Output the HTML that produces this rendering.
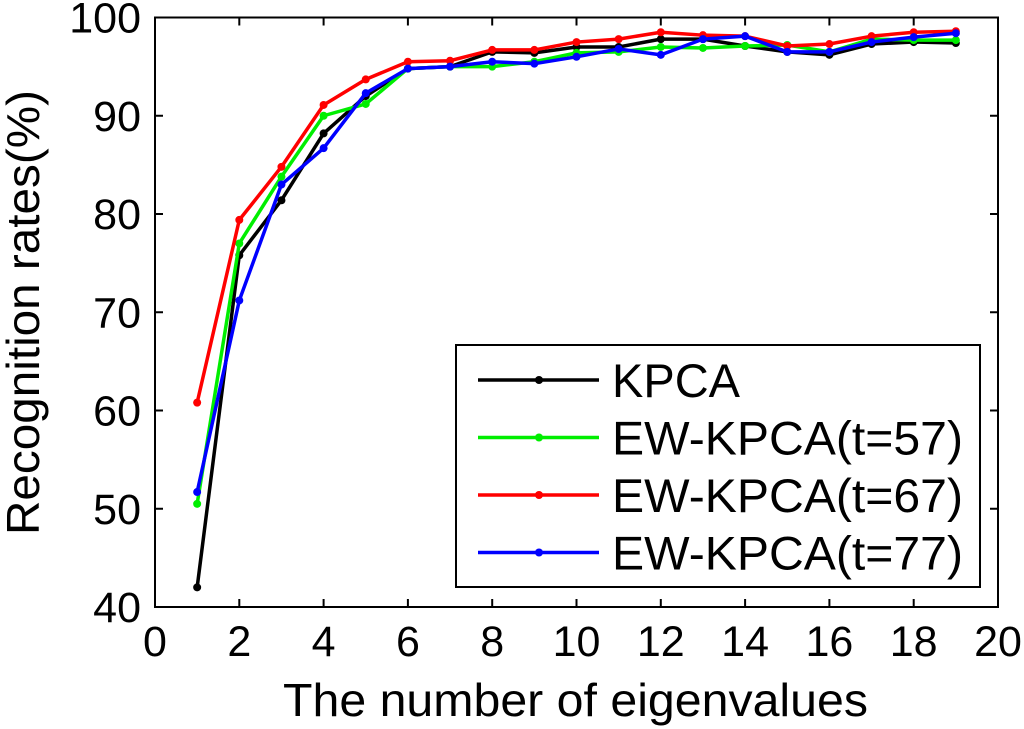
<!DOCTYPE html>
<html><head><meta charset="utf-8"><style>
body{margin:0;background:#fff;}
svg{display:block;font-family:"Liberation Sans",Arial,sans-serif;}
</style></head><body>
<svg id="chart" width="1024" height="729"></svg>
<script>
const xValues=[1,2,3,4,5,6,7,8,9,10,11,12,13,14,15,16,17,18,19];
const kpca=[42,75.8,81.4,88.2,92.0,94.8,95.0,96.5,96.4,97.0,97.0,97.8,97.8,97.1,96.5,96.2,97.3,97.5,97.4];
const ew57=[50.5,77.0,83.8,90.0,91.2,94.8,95.0,95.0,95.5,96.4,96.5,97.0,96.9,97.1,97.2,96.5,97.8,97.7,97.7];
const ew67=[60.8,79.4,84.8,91.1,93.7,95.5,95.6,96.7,96.7,97.5,97.8,98.5,98.2,98.1,97.1,97.3,98.1,98.5,98.6];
const ew77=[51.7,71.2,83.0,86.7,92.3,94.8,95.0,95.5,95.3,96.0,96.8,96.2,97.8,98.1,96.5,96.5,97.5,98.0,98.4];
const xTicks=[0,2,4,6,8,10,12,14,16,18,20];
const yTicks=[40,50,60,70,80,90,100];
const seriesNames=["KPCA","EW-KPCA(t=57)","EW-KPCA(t=67)","EW-KPCA(t=77)"];
const seriesData=[kpca,ew57,ew67,ew77];
const colors=["#000","#00ee00","#ff0000","#0000ff"];
const L=155,R=998,T=17.5,B=607;
const sx=v=>L+(v-0)/20*(R-L);
const sy=v=>B-(v-40)/60*(B-T);
const NS="http://www.w3.org/2000/svg";
const svg=document.getElementById('chart');
function mk(t,a,p){const e=document.createElementNS(NS,t);for(const k in a)e.setAttribute(k,a[k]);(p||svg).appendChild(e);return e;}
const frame=mk('rect',{x:L,y:T,width:R-L,height:B-T,fill:'none',stroke:'#000','stroke-width':2});


xTicks.forEach(v=>{
  const x=sx(v);
  mk('line',{x1:x,y1:B,x2:x,y2:B-8,stroke:'#000','stroke-width':2});
  mk('line',{x1:x,y1:T,x2:x,y2:T+8,stroke:'#000','stroke-width':2});
  const t=mk('text',{x:x,y:656,'text-anchor':'middle','font-size':43});
  t.textContent=v;
  
  
});
yTicks.forEach(v=>{
  const y=sy(v);
  mk('line',{x1:L,y1:y,x2:L+8,y2:y,stroke:'#000','stroke-width':2});
  mk('line',{x1:R,y1:y,x2:R-8,y2:y,stroke:'#000','stroke-width':2});
  const t=mk('text',{x:141,y:y+15,'text-anchor':'end','font-size':43});
  t.textContent=v;
  
  
});
const xt=mk('text',{x:283,y:716,'font-size':46,textLength:585,lengthAdjust:'spacingAndGlyphs'});
xt.textContent='The number of eigenvalues';


const yt=mk('text',{x:0,y:0,'font-size':46,textLength:445,lengthAdjust:'spacingAndGlyphs',transform:'translate(39,535) rotate(-90)'});
yt.textContent='Recognition rates(%)';


seriesData.forEach((d,i)=>{
  const g=mk('g',{});
  
  
  mk('polyline',{points:d.map((v,j)=>sx(xValues[j])+','+sy(v)).join(' '),fill:'none',stroke:colors[i],'stroke-width':3.5,'stroke-linejoin':'round'},g);
  d.forEach((v,j)=>{
    const c=mk('circle',{cx:sx(xValues[j]),cy:sy(v),r:4,fill:colors[i]},g);
    
    
  });
});
const lg=mk('g',{});


mk('rect',{x:456,y:345,width:524,height:242,fill:'#fff',stroke:'#000','stroke-width':2},lg);
const legW=[128,351,351,351];
seriesNames.forEach((n,i)=>{
  const y=380+i*57.5;
  const e=mk('g',{},lg);
  
  
  mk('line',{x1:478,y1:y,x2:599,y2:y,stroke:colors[i],'stroke-width':3.5},e);
  mk('circle',{cx:539,cy:y,r:4,fill:colors[i]},e);
  const t=mk('text',{x:612,y:y+17,'font-size':47,textLength:legW[i],lengthAdjust:'spacingAndGlyphs'},e);
  t.textContent=n;
});
</script>
</body></html>
